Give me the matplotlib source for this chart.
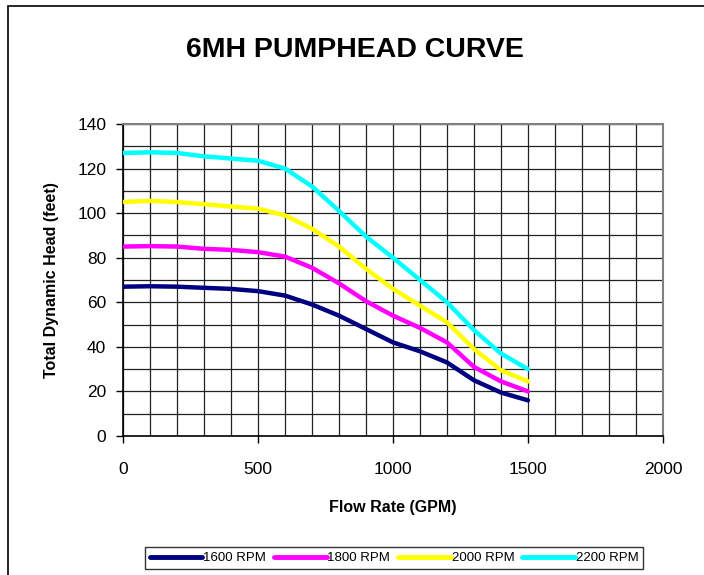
import matplotlib.pyplot as plt
from matplotlib.patches import Rectangle
from matplotlib.ticker import MultipleLocator

plt.rcParams['font.family'] = ['Liberation Sans', 'DejaVu Sans']

flow = [0, 100, 200, 300, 400, 500, 600, 700, 800, 900, 1000, 1100, 1200, 1300, 1400, 1500]
head_1600 = [67, 67.2, 67, 66.5, 66, 65, 63, 59, 54, 48, 42, 38, 33, 25, 19.5, 16]
head_1800 = [85, 85.2, 85, 84, 83.5, 82.5, 80.5, 75.5, 68.5, 60.5, 54, 48.5, 42, 31, 24.5, 20]
head_2000 = [105, 105.5, 105, 104, 103, 102, 99, 93, 85, 75, 66, 58.5, 51, 39, 29.5, 24.5]
head_2200 = [127, 127.3, 127, 125.5, 124.5, 123.5, 120, 112, 101, 89.5, 80, 70, 60, 47.5, 37, 30]

series = [
    ('1600 RPM', head_1600, '#000080'),
    ('1800 RPM', head_1800, '#FF00FF'),
    ('2000 RPM', head_2000, '#FFFF00'),
    ('2200 RPM', head_2200, '#00FFFF'),
]

fig = plt.figure(figsize=(7.04, 5.75), dpi=100)
# outer chart border (runs off the right and bottom edges like the original)
fig.patches.append(Rectangle((8 / 704, -0.1), 1.2, 1 - 6 / 575 + 0.1, transform=fig.transFigure,
                             fill=False, edgecolor='black', linewidth=1.2))

ax = fig.add_axes([123 / 704, 1 - 436 / 575, 540 / 704, 312 / 575])

for label, head, color in series:
    ax.plot(flow, head, color=color, lw=3.2, label=label,
            solid_capstyle='round', solid_joinstyle='round', zorder=3)

ax.set_xlim(0, 2000)
ax.set_ylim(0, 140)
ax.xaxis.set_major_locator(MultipleLocator(500))
ax.xaxis.set_minor_locator(MultipleLocator(100))
ax.yaxis.set_major_locator(MultipleLocator(20))
ax.yaxis.set_minor_locator(MultipleLocator(10))
ax.grid(which='both', color='#222222', linewidth=0.9)
ax.set_axisbelow(True)
ax.tick_params(which='major', direction='out', length=5, width=1, labelsize=12.5)
ax.tick_params(axis='x', which='major', pad=14)
ax.tick_params(axis='y', which='major', pad=7)
ax.tick_params(which='minor', length=0)

for side in ['left', 'bottom']:
    ax.spines[side].set_color('black')
    ax.spines[side].set_linewidth(1.2)
for side in ['top', 'right']:
    ax.spines[side].set_color('#808080')
    ax.spines[side].set_linewidth(1.5)

ax.set_xlabel('Flow Rate (GPM)', fontsize=11.5, fontweight='bold', labelpad=16)
ax.set_ylabel('Total Dynamic Head (feet)', fontsize=11.5, fontweight='bold', labelpad=13)

fig.text(355 / 704, 1 - 50 / 575, '6MH PUMPHEAD CURVE', ha='center', va='center',
         fontsize=20.5, fontweight='bold')

leg = fig.legend(loc='center', bbox_to_anchor=(394 / 704, 1 - 558 / 575), ncol=4,
                 fontsize=9.5, frameon=True, fancybox=False, edgecolor='black',
                 handlelength=4.0, handletextpad=0.05, columnspacing=0.6,
                 borderpad=0.35)
leg.get_frame().set_linewidth(1.0)
for line in leg.get_lines():
    line.set_linewidth(3.5)

plt.savefig('out.png', dpi=100)
